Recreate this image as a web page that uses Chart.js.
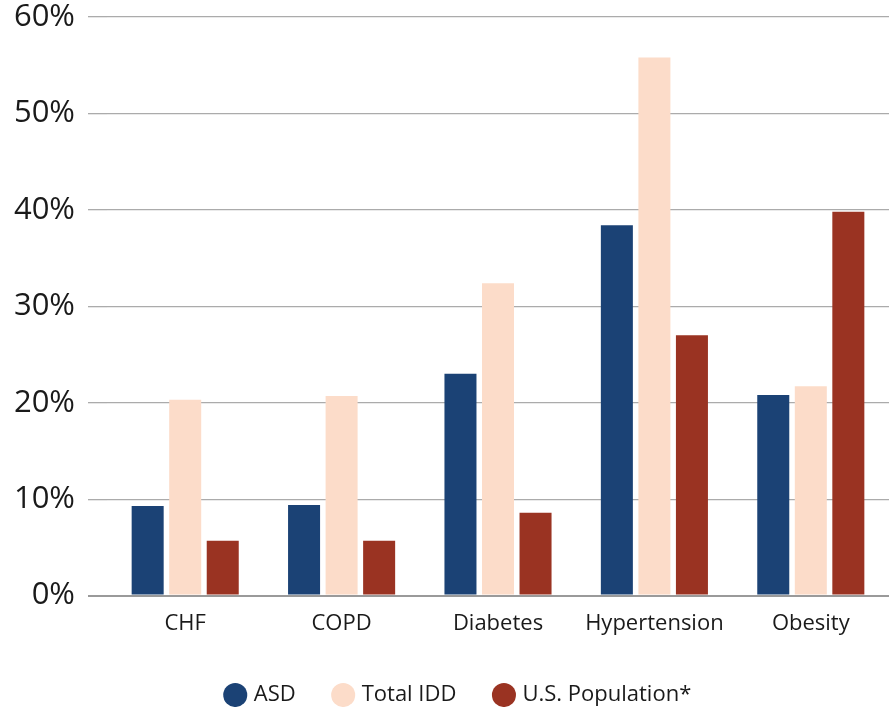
<!DOCTYPE html>
<html>
<head>
<meta charset="utf-8">
<script src="https://cdn.jsdelivr.net/npm/chart.js@4.4.1/dist/chart.umd.min.js"></script>
<style>
  html, body { margin: 0; padding: 0; background: #ffffff; }
  #wrap { width: 889px; height: 707px; position: relative; }
</style>
</head>
<body>
<div id="wrap"><canvas id="c" width="889" height="707"></canvas></div>
<script>
const categories = ["CHF", "COPD", "Diabetes", "Hypertension", "Obesity"];
const asdValues = [9.3, 9.4, 23.0, 38.4, 20.8];
const totalIddValues = [20.3, 20.7, 32.4, 55.8, 21.7];
const usPopulationValues = [5.7, 5.7, 8.6, 27.0, 39.8];
const seriesNames = ["ASD", "Total IDD", "U.S. Population*"];
const yTicks = [0, 10, 20, 30, 40, 50, 60];

const FONT = "'Open Sans', 'Noto Sans', sans-serif";

const legendShift = {
  id: 'legendShift',
  afterLayout(chart) {
    if (chart.legend) { chart.legend.left += 15; chart.legend.right += 15; }
  }
};

new Chart(document.getElementById('c'), {
  type: 'bar',
  data: {
    labels: categories,
    datasets: [
      { label: seriesNames[0], data: asdValues, backgroundColor: '#1b4275' },
      { label: seriesNames[1], data: totalIddValues, backgroundColor: '#fcdcc9' },
      { label: seriesNames[2], data: usPopulationValues, backgroundColor: '#9a3322' }
    ]
  },
  plugins: [legendShift],
  options: {
    responsive: false,
    animation: false,
    layout: { padding: { top: 17, right: 0, bottom: -9, left: 0 } },
    datasets: { bar: { categoryPercentage: 0.72, barPercentage: 0.853 } },
    plugins: {
      tooltip: { enabled: false },
      legend: {
        position: 'bottom',
        labels: {
          usePointStyle: true,
          pointStyle: 'circle',
          boxWidth: 15,
          boxHeight: 17,
          padding: 40,
          color: '#1a1a1a',
          font: { family: FONT, size: 22 }
        }
      }
    },
    scales: {
      x: {
        grid: { display: false },
        border: { display: false },
        ticks: { color: '#1a1a1a', font: { family: FONT, size: 22 }, padding: 7 }
      },
      y: {
        min: 0, max: 60,
        afterBuildTicks: (s) => { s.ticks = yTicks.map(v => ({ value: v })); },
        afterFit: (s) => { s.width = 107; s.paddingTop = 0; },
        border: { display: false },
        grid: {
          color: (ctx) => ctx.tick && ctx.tick.value === 0 ? '#9a9a9a' : '#ababab',
          lineWidth: (ctx) => ctx.tick && ctx.tick.value === 0 ? 2 : 1.3,
          drawTicks: true,
          tickLength: 19
        },
        ticks: {
          color: '#1a1a1a',
          padding: 13,
          font: { family: FONT, size: 31 },
          callback: (v) => v + '%'
        }
      }
    }
  }
});
</script>
</body>
</html>
